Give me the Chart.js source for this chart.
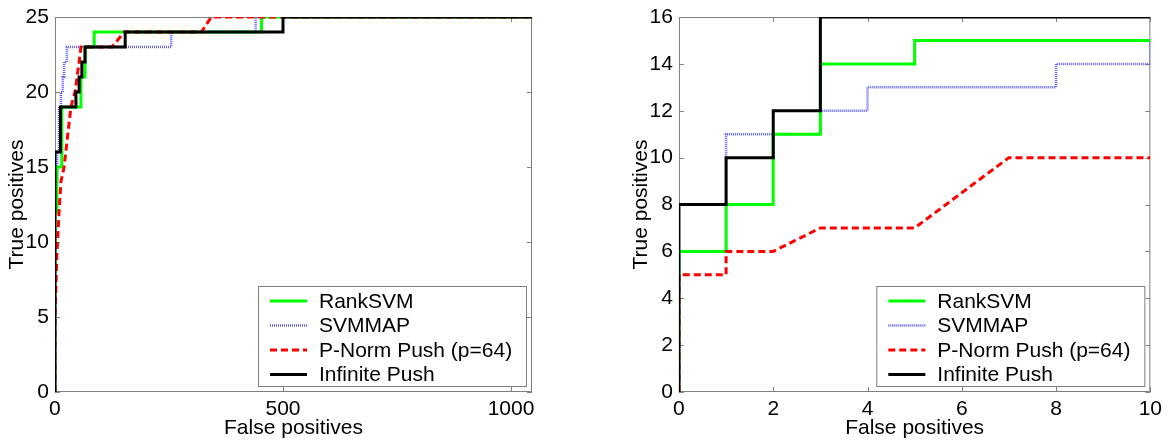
<!DOCTYPE html>
<html>
<head>
<meta charset="utf-8">
<script src="https://cdn.jsdelivr.net/npm/chart.js@4.4.1/dist/chart.umd.min.js"></script>
<style>
  html, body { margin: 0; padding: 0; background: #fff; }
  .panel { position: absolute; top: 0; height: 440px; }
  #fullPanel { left: 0; width: 560px; }
  #zoomPanel { left: 560px; width: 609px; }
</style>
</head>
<body>
<div class="panel" id="fullPanel"><canvas id="fullChart"></canvas></div>
<div class="panel" id="zoomPanel"><canvas id="zoomChart"></canvas></div>
<script>
// Series names (same order in both panels)
const seriesLabels = ['RankSVM', 'SVMMAP', 'P-Norm Push (p=64)', 'Infinite Push'];

// Full ROC curves: false positives vs true positives
const fullRankSvmFp = [0, 0, 4, 4, 15, 15, 57, 57, 66, 66, 86, 86, 453, 453, 1046];
const fullRankSvmTp = [0, 12, 12, 15, 15, 19, 19, 21, 21, 23, 23, 24, 24, 25, 25];
const fullSvmMapFp = [0, 0, 5, 5, 9, 9, 13, 13, 17, 17, 20, 20, 26, 26, 255, 255, 440, 440, 1046];
const fullSvmMapTp = [0, 14, 14, 16, 16, 19, 19, 20, 20, 21, 21, 22, 22, 23, 23, 24, 24, 25, 25];
const fullPNormFp = [0, 0, 4, 9, 13, 20, 35, 44, 53, 57, 125, 152, 321, 343, 1046];
const fullPNormTp = [0, 5, 9, 12, 14, 15, 19, 20, 22, 23, 23, 24, 24, 25, 25];
const fullInfPushFp = [0, 0, 12, 12, 46, 46, 53, 53, 59, 59, 66, 66, 154, 154, 500, 500, 1046];
const fullInfPushTp = [0, 16, 16, 19, 19, 20, 20, 21, 21, 22, 22, 23, 23, 24, 24, 25, 25];

// Zoom on the first 10 false positives
const zoomRankSvmFp = [0, 0, 1, 1, 2, 2, 3, 3, 5, 5, 10];
const zoomRankSvmTp = [0, 6, 6, 8, 8, 11, 11, 14, 14, 15, 15];
const zoomSvmMapFp = [0, 0, 1, 1, 3, 3, 4, 4, 8, 8, 10, 10];
const zoomSvmMapTp = [0, 6, 6, 11, 11, 12, 12, 13, 13, 14, 14, 15];
const zoomPNormFp = [0, 0, 1, 1, 2, 3, 5, 7, 10];
const zoomPNormTp = [0, 5, 5, 6, 6, 7, 7, 10, 10];
const zoomInfPushFp = [0, 0, 1, 1, 2, 2, 3, 3, 10];
const zoomInfPushTp = [0, 8, 8, 10, 10, 12, 12, 16, 16];

// Axis ranges and tick labels
const fullXMax = 1046, fullYMax = 25;
const fullXTicks = [0, 500, 1000];
const fullYTicks = [0, 5, 10, 15, 20, 25];
const zoomXMax = 10, zoomYMax = 16;
const zoomXTicks = [0, 2, 4, 6, 8, 10];
const zoomYTicks = [0, 2, 4, 6, 8, 10, 12, 14, 16];

const FONT = "'Liberation Sans', Arial, sans-serif";
Chart.defaults.font.family = FONT;
Chart.defaults.font.size = 21;
Chart.defaults.color = '#000';

const toPoints = (xs, ys) => xs.map((x, i) => ({ x: x, y: ys[i] }));

const lineStyles = [
  { borderColor: '#00ff00', borderWidth: 3, borderDash: [], order: 3 },
  { borderColor: '#5c5cff', borderWidth: 2.5, borderDash: [1, 1], order: 4 },
  { borderColor: '#ff0000', borderWidth: 3, borderDash: [7, 4], order: 2 },
  { borderColor: '#000000', borderWidth: 3, borderDash: [], order: 1 }
];

function makeDatasets(curves) {
  return curves.map((c, i) => Object.assign({
    label: seriesLabels[i],
    data: toPoints(c[0], c[1]),
    showLine: true,
    fill: false,
    tension: 0,
    pointRadius: 0,
    pointHoverRadius: 0
  }, lineStyles[i]));
}

// Grey box round the plot area with inward tick marks on all four sides
const axesFrame = {
  id: 'axesFrame',
  beforeDatasetsDraw(chart) {
    const { ctx, chartArea: a, scales } = chart;
    const len = 5;
    ctx.save();
    ctx.strokeStyle = '#808080';
    ctx.lineWidth = 1;
    ctx.strokeRect(a.left + 0.5, a.top + 0.5, a.right - a.left - 1, a.bottom - a.top - 1);
    ctx.beginPath();
    scales.x.ticks.forEach(t => {
      const px = Math.round(scales.x.getPixelForValue(t.value)) + 0.5;
      ctx.moveTo(px, a.bottom); ctx.lineTo(px, a.bottom - len);
      ctx.moveTo(px, a.top); ctx.lineTo(px, a.top + len);
    });
    scales.y.ticks.forEach(t => {
      const py = Math.round(scales.y.getPixelForValue(t.value)) + 0.5;
      ctx.moveTo(a.left, py); ctx.lineTo(a.left + len, py);
      ctx.moveTo(a.right, py); ctx.lineTo(a.right - len, py);
    });
    ctx.stroke();
    ctx.restore();
  }
};

// Boxed legend in the lower right corner of the plot area
const cornerLegend = {
  id: 'cornerLegend',
  afterDatasetsDraw(chart) {
    const { ctx, chartArea: a } = chart;
    const w = 269, h = 101, rowH = 24.5;
    const right = a.right - 5, bottom = a.bottom - 5;
    const left = right - w, top = bottom - h;
    ctx.save();
    ctx.fillStyle = '#fff';
    ctx.fillRect(left, top, w, h);
    ctx.strokeStyle = '#808080';
    ctx.lineWidth = 1;
    ctx.strokeRect(left + 0.5, top + 0.5, w - 1, h - 1);
    ctx.font = '21px ' + FONT;
    ctx.textBaseline = 'middle';
    chart.data.datasets.forEach((ds, i) => {
      const y = top + 15 + i * rowH;
      ctx.beginPath();
      ctx.strokeStyle = ds.borderColor;
      ctx.lineWidth = ds.borderWidth;
      ctx.setLineDash(ds.borderDash || []);
      ctx.moveTo(left + 12, y);
      ctx.lineTo(left + 49, y);
      ctx.stroke();
      ctx.setLineDash([]);
      ctx.fillStyle = '#000';
      ctx.fillText(ds.label, left + 61, y + 1);
    });
    ctx.restore();
  }
};

function makeChart(canvasId, curves, xMax, yMax, xTicks, yTicks, padLeft, padRight) {
  const keep = list => scale => {
    scale.ticks = list.map(v => ({ value: v }));
  };
  return new Chart(document.getElementById(canvasId), {
    type: 'scatter',
    data: { datasets: makeDatasets(curves) },
    options: {
      responsive: true,
      maintainAspectRatio: false,
      animation: false,
      events: [],
      layout: { padding: { left: padLeft, right: padRight, top: 17, bottom: 0 } },
      plugins: { legend: { display: false }, tooltip: { enabled: false } },
      scales: {
        x: {
          type: 'linear',
          min: 0,
          max: xMax,
          afterBuildTicks: keep(xTicks),
          grid: { display: false, drawTicks: false },
          border: { display: false },
          ticks: {
            padding: 7, maxRotation: 0, autoSkip: false,
            font: { size: 21, lineHeight: 1 },
            callback: v => String(v)
          },
          title: {
            display: true, text: 'False positives',
            font: { size: 21, lineHeight: 0.5 },
            padding: { top: -4.25, bottom: 6.75 }
          }
        },
        y: {
          type: 'linear',
          min: 0,
          max: yMax,
          afterBuildTicks: keep(yTicks),
          grid: { display: false, drawTicks: false },
          border: { display: false },
          ticks: {
            padding: 6, autoSkip: false,
            font: { size: 21, lineHeight: 1 },
            callback: v => String(v)
          },
          title: {
            display: true, text: 'True positives',
            font: { size: 21, lineHeight: 0.5 },
            padding: { top: 11.75, bottom: -2.65 }
          }
        }
      }
    },
    plugins: [axesFrame, cornerLegend]
  });
}

makeChart('fullChart', [
  [fullRankSvmFp, fullRankSvmTp],
  [fullSvmMapFp, fullSvmMapTp],
  [fullPNormFp, fullPNormTp],
  [fullInfPushFp, fullInfPushTp]
], fullXMax, fullYMax, fullXTicks, fullYTicks, 0, 28);

makeChart('zoomChart', [
  [zoomRankSvmFp, zoomRankSvmTp],
  [zoomSvmMapFp, zoomSvmMapTp],
  [zoomPNormFp, zoomPNormTp],
  [zoomInfPushFp, zoomInfPushTp]
], zoomXMax, zoomYMax, zoomXTicks, zoomYTicks, 64, 14);
</script>
</body>
</html>
